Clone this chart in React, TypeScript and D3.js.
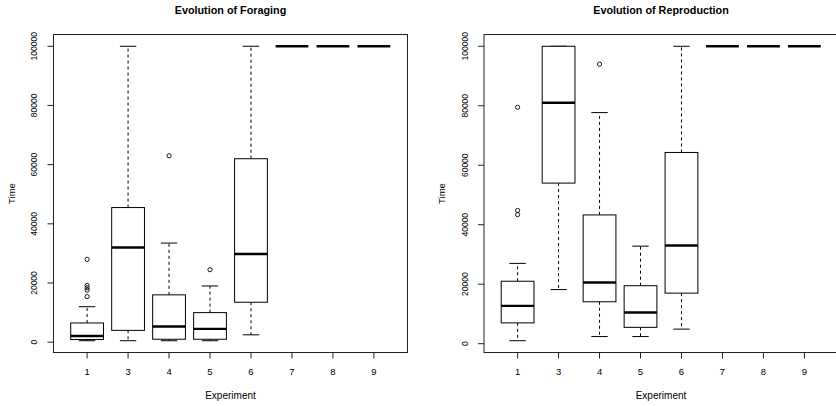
import React from "react";
import * as d3 from "d3";

const categories = ["1", "3", "4", "5", "6", "7", "8", "9"];
const yTicks = [0, 20000, 40000, 60000, 80000, 100000];

// Foraging
const forLo = [500, 500, 500, 500, 2500, 100000, 100000, 100000];
const forQ1 = [900, 4000, 1000, 1000, 13500, 100000, 100000, 100000];
const forMed = [2100, 32000, 5300, 4500, 29800, 100000, 100000, 100000];
const forQ3 = [6500, 45500, 16000, 10000, 62000, 100000, 100000, 100000];
const forHi = [12000, 100000, 33500, 19000, 100000, 100000, 100000, 100000];
const forOut: number[][] = [[28000, 19200, 18400, 17600, 15400], [], [63000], [24500], [], [], [], []];

// Reproduction
const repLo = [1000, 18200, 2400, 2400, 4900, 100000, 100000, 100000];
const repQ1 = [7000, 54000, 14100, 5500, 17000, 100000, 100000, 100000];
const repMed = [12700, 81000, 20600, 10500, 33000, 100000, 100000, 100000];
const repQ3 = [21000, 100000, 43300, 19500, 64300, 100000, 100000, 100000];
const repHi = [27000, 100000, 77700, 32800, 100000, 100000, 100000, 100000];
const repOut: number[][] = [[79500, 44800, 43400], [], [94000], [], [], [], [], []];

const FONT = "'Liberation Sans', Arial, Helvetica, sans-serif";

type PanelProps = {
  title: string;
  left: number;
  lo: number[];
  q1: number[];
  med: number[];
  q3: number[];
  hi: number[];
  out: number[][];
};

function Panel({ title, left, lo, q1, med, q3, hi, out }: PanelProps) {
  const top = 34.5;
  const bottom = 352.5;
  const width = 354;
  const right = left + width;
  const n = categories.length;
  const x = d3.scaleLinear().domain([0.5 - 0.04 * n, n + 0.5 + 0.04 * n]).range([left, right]);
  const allVals = [...lo, ...hi, ...out.flat()];
  const mn = d3.min(allVals) as number;
  const mx = d3.max(allVals) as number;
  const ext = 0.04 * (mx - mn);
  const y = d3.scaleLinear().domain([mn - ext, mx + ext]).range([bottom, top]);
  const unit = x(2) - x(1);
  const bw = 0.8 * unit;
  const sw = 0.5 * bw;
  const cx = (w: number) => (left + right) / 2;

  return (
    <g>
      <text x={cx(0)} y={13.5} textAnchor="middle" fontFamily={FONT} fontWeight="bold" fontSize={10.8} fill="#000">
        {title}
      </text>
      {categories.map((c, i) => {
        const xc = x(i + 1);
        return (
          <g key={c}>
            {/* whiskers */}
            <line x1={xc} x2={xc} y1={y(q3[i])} y2={y(hi[i])} stroke="#000" strokeWidth={1} strokeDasharray="3,3" />
            <line x1={xc} x2={xc} y1={y(q1[i])} y2={y(lo[i])} stroke="#000" strokeWidth={1} strokeDasharray="3,3" />
            <line x1={xc - sw / 2} x2={xc + sw / 2} y1={y(hi[i])} y2={y(hi[i])} stroke="#000" strokeWidth={1} />
            <line x1={xc - sw / 2} x2={xc + sw / 2} y1={y(lo[i])} y2={y(lo[i])} stroke="#000" strokeWidth={1} />
            <rect x={xc - bw / 2} y={y(q3[i])} width={bw} height={Math.max(0, y(q1[i]) - y(q3[i]))} fill="#fff" stroke="#000" strokeWidth={1} />
            <line x1={xc - bw / 2} x2={xc + bw / 2} y1={y(med[i])} y2={y(med[i])} stroke="#000" strokeWidth={2.4} />
            {out[i].map((v, k) => (
              <circle key={k} cx={xc} cy={y(v)} r={2.1} fill="none" stroke="#000" strokeWidth={0.9} />
            ))}
            {/* x tick */}
            <line x1={xc} x2={xc} y1={bottom} y2={bottom + 6} stroke="#222" strokeWidth={1} />
            <text x={xc} y={375} textAnchor="middle" fontFamily={FONT} fontSize={9.5} fill="#000">
              {c}
            </text>
          </g>
        );
      })}
      {yTicks.map((t) => (
        <g key={t}>
          <line x1={left - 6} x2={left} y1={y(t)} y2={y(t)} stroke="#222" strokeWidth={1} />
          <text
            transform={`translate(${left - 16.5},${y(t)}) rotate(-90)`}
            textAnchor="middle"
            fontFamily={FONT}
            fontSize={8.5}
            fill="#000"
          >
            {t}
          </text>
        </g>
      ))}
      <rect x={left} y={top} width={width} height={bottom - top} fill="none" stroke="#222" strokeWidth={1} />
      <text x={(left + right) / 2} y={399} textAnchor="middle" fontFamily={FONT} fontSize={10} fill="#000">
        Experiment
      </text>
      <text
        transform={`translate(${left - 39},${(top + bottom) / 2}) rotate(-90)`}
        textAnchor="middle"
        fontFamily={FONT}
        fontSize={9.5}
        fill="#000"
      >
        Time
      </text>
    </g>
  );
}

export default function App() {
  return (
    <svg
      width={836}
      height={406}
      style={{ position: "absolute", left: 0, top: 0, background: "#fff", overflow: "hidden" }}
    >
      <rect x={0} y={0} width={836} height={406} fill="#fff" />
      <Panel title="Evolution of Foraging" left={53.5} lo={forLo} q1={forQ1} med={forMed} q3={forQ3} hi={forHi} out={forOut} />
      <Panel title="Evolution of Reproduction" left={484} lo={repLo} q1={repQ1} med={repMed} q3={repQ3} hi={repHi} out={repOut} />
    </svg>
  );
}
